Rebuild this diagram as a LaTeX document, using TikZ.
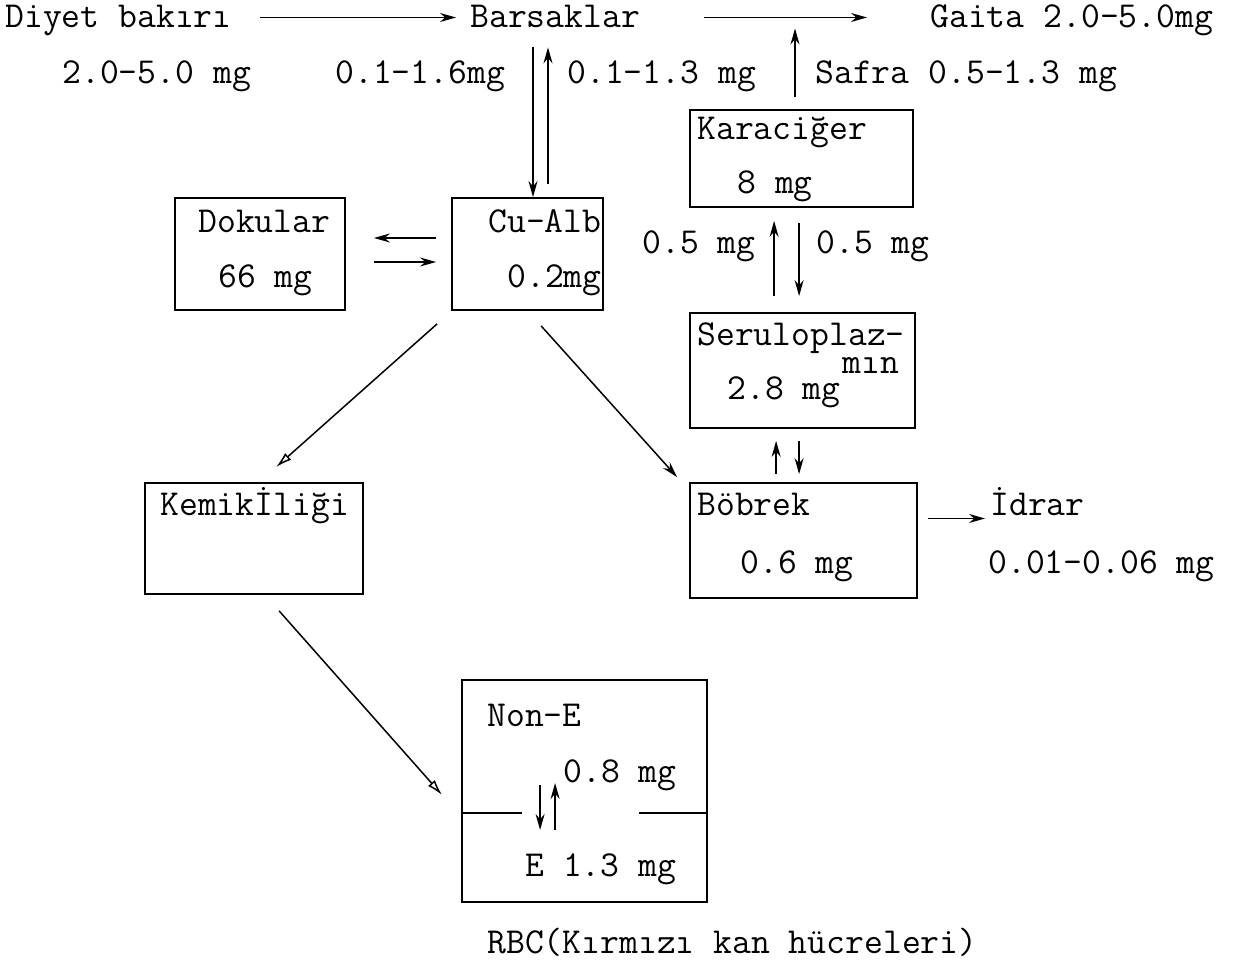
\documentclass[tikz,border=0pt]{standalone}
\usepackage{fontspec}
\usetikzlibrary{arrows.meta,fit,calc}
\begin{document}
\begin{tikzpicture}[x=0.5pt,y=-0.5pt,
  tf/.style={font=\ttfamily\fontsize{18.3}{14pt}\selectfont, inner sep=0pt},
  t/.style={tf, anchor=base west, text height=10pt, text depth=2.5pt},
  box/.style={draw, line width=0.9pt, inner sep=0pt},
  arr/.style={line width=0.75pt, -{Stealth[length=8pt,width=4.5pt]}},
  oarr/.style={line width=0.75pt, -{Latex[open,length=8pt,width=4.5pt]}},
  ln/.style={line width=0.9pt}]
\useasboundingbox (0,0) rectangle (1240,961);

% boxes
\node[box, fit={(175,198) (345,310)}] (dok) {};
\node[box, fit={(452,198) (603,310)}] (cua) {};
\node[box, fit={(690,110) (913,207)}] (kar) {};
\node[box, fit={(690,313) (915,428)}] (ser) {};
\node[box, fit={(690,483) (917,598)}] (bob) {};
\node[box, fit={(145,483) (363,594)}] (kem) {};
\node[box, fit={(462,680) (707,902)}] (rbc) {};

% texts
\node[t] (diyet) at (5,28) {Diyet bakırı};
\node[t] (bars) at (470,28) {Barsaklar};
\node[t] (gaita) at (930,28) {Gaita 2.0-5.0mg};
\node[t] (d2) at (62,84) {2.0-5.0 mg};
\node[t] (b1) at (335,84) {0.1-1.6mg};
\node[t] (b2) at (567,84) {0.1-1.3 mg};
\node[t] (safra) at (815,84) {Safra 0.5-1.3 mg};
\node[t] (dokt) at (198,233) {Dokular};
\node[t] (dokm) at (218,288) {66 mg};
\node[t] (cuat) at (488,233) {Cu-Alb};
\node[t] (cuam) at (507,288) {0.2mg};
\node[t] (kart) at (697,140) {Karaciğer};
\node[t] (karm) at (737,194) {8 mg};
\node[t] (kl) at (642,254) {0.5 mg};
\node[t] (kr) at (816,254) {0.5 mg};
\node[tf, anchor=north west, align=left] (sert) at (697,322) {Seruloplaz-\\\hspace*{72.5pt}mın};
\node[t] (serm) at (727,400) {2.8 mg};
\node[t] (bobt) at (697,516) {Böbrek};
\node[t] (bobm) at (740,574) {0.6 mg};
\node[t] (idrar) at (990,516) {İdrar};
\node[t] (idrm) at (988,574) {0.01-0.06 mg};
\node[t] (kemt) at (160,516) {Kemikİliği};
\node[t] (none) at (487,726) {Non-E};
\node[t] (rbcm) at (563,782) {0.8 mg};
\node[t] (e) at (525,876) {E 1.3 mg};
\node[t] (rbct) at (487,953) {RBC(Kırmızı kan hücreleri)};

% top row
\coordinate (r1) at ($(diyet.east)+(28,-3)$);
\draw[arr] (r1) -- ($(r1 -| bars.west)+(-14,0)$);
\coordinate (r2) at ($(bars.east)+(64,-3)$);
\draw[arr] (r2) -- ($(r2 -| gaita.west)+(-63,0)$);
\draw[arr] ($(safra.west)+(-20,21)$) -- ($(safra.west)+(-20,-48)$);

% Barsaklar <-> Cu-Alb
\coordinate (bc1) at ($(bars.south west)+(63,14)$);
\coordinate (bc2) at ($(bars.south west)+(78,14)$);
\draw[arr] (bc1) -- (bc1 |- cua.north);
\draw[arr] ($(bc2 |- cua.north)+(0,-13)$) -- (bc2);

% Cu-Alb <-> Dokular
\draw[arr] ($(cua.west)+(-15,-16)$) -- ($(dok.east)+(28,-16)$);
\draw[arr] ($(dok.east)+(28,8)$) -- ($(cua.west)+(-15,8)$);

% Karaciger <-> Seruloplazmin
\draw[arr] ($(ser.north west)+(85,-16)$) -- ($(kar.south west)+(85,13)$);
\draw[arr] ($(kar.south west)+(110,15)$) -- ($(ser.north west)+(110,-16)$);

% Seruloplazmin <-> Bobrek
\draw[arr] ($(bob.north west)+(87,-8)$) -- ($(ser.south west)+(87,12)$);
\draw[arr] ($(ser.south west)+(110,12)$) -- ($(bob.north west)+(110,-8)$);

% diagonals
\draw[oarr] ($(cua.south west)+(-14,13)$) -- ($(kem.north west)+(132,-15)$);
\draw[arr] ($(cua.south west)+(90,15)$) -- ($(bob.north west)+(-12,-5)$);
\draw[oarr] ($(kem.south west)+(135,16)$) -- ($(rbc.west)+(-19,4)$);

% Bobrek -> Idrar
\coordinate (bi) at ($(bob.east)+(10,-22)$);
\draw[arr] (bi) -- ($(bi -| idrar.west)+(-5,0)$);

% RBC interior
\draw[ln] ($(rbc.west)+(0,22)$) -- ($(rbc.west)+(61,22)$);
\draw[ln] ($(rbc.east)+(0,22)$) -- ($(rbc.east)+(-69,22)$);
\draw[arr] ($(rbc.west)+(79,-6)$) -- ($(rbc.west)+(79,39)$);
\draw[arr] ($(rbc.west)+(94,39)$) -- ($(rbc.west)+(94,-8)$);
\end{tikzpicture}
\end{document}
